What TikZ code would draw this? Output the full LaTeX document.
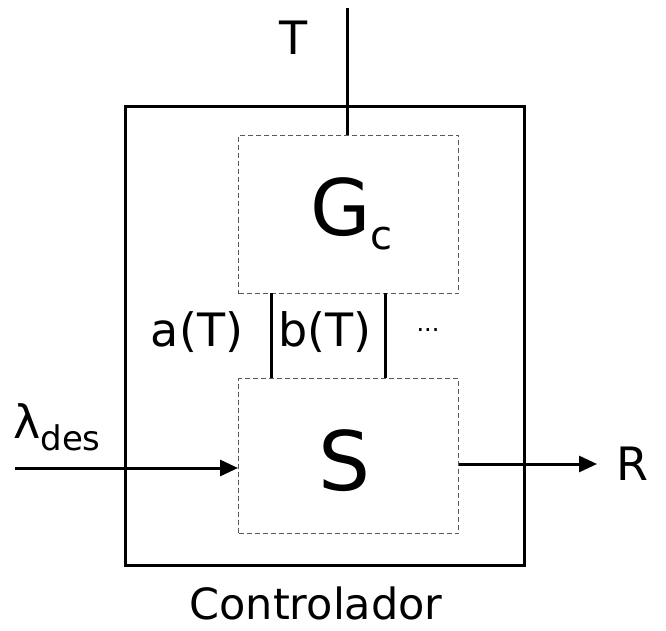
\documentclass[tikz,border=0pt]{standalone}
\usepackage{fontspec}
\setmainfont{DejaVu Sans}
\usetikzlibrary{arrows.meta}
\begin{document}
\begin{tikzpicture}[x=1pt,y=-1pt,
  thick line/.style={line width=3pt},
  dashbox/.style={draw=black!65, line width=1pt, dash pattern=on 5pt off 3pt},
  lbl/.style={font=\fontsize{46}{52}\selectfont, inner sep=0pt},
  arr/.style={line width=3pt, -{Triangle[length=18pt,width=16pt]}}]
\useasboundingbox (0,0) rectangle (666,631);
\draw[thick line] (125,107) rectangle (524,565);
\node[dashbox, minimum width=220pt, minimum height=158pt, anchor=north west, inner sep=0pt] (gc) at (238,135) {};
\node[dashbox, minimum width=220pt, minimum height=155pt, anchor=north west, inner sep=0pt] (s) at (238,378) {};
\node[inner sep=0pt, anchor=base] (gct) at (351.5,235) {\fontsize{78}{80}\selectfont G\hspace{-1pt}\raisebox{-14pt}{\fontsize{40}{44}\selectfont c}};
\node[inner sep=0pt, anchor=base] (st) at (345,490) {\fontsize{82}{84}\selectfont S};
\coordinate (ttop) at (347,8);
\draw[thick line] (ttop) -- (gc.north -| ttop);
\node[lbl, anchor=base] (tl) at (294,55) {T};
\coordinate (a1) at (271,293);
\coordinate (a2) at (385,293);
\draw[thick line] (a1) -- (a1 |- s.north);
\draw[thick line] (a2) -- (a2 |- s.north);
\node[lbl, anchor=base] (al) at (197,346) {a(T)};
\node[lbl, anchor=base] (bl) at (325,346) {b(T)};
\node[font=\fontsize{24}{28}\selectfont, inner sep=0pt] (dots) at (428,330) {...};
\coordinate (in) at (15,468);
\draw[arr] (in) -- (s.west |- in);
\node[inner sep=0pt, anchor=base west] (lam) at (13,438) {\fontsize{46}{52}\selectfont λ\raisebox{-12pt}{\fontsize{34}{38}\selectfont des}};
\coordinate (out) at (597,464);
\draw[arr] (s.east |- out) -- (out);
\node[lbl, anchor=base] (rl) at (632,480) {R};
\node[font=\fontsize{43}{48}\selectfont, inner sep=0pt, anchor=base] (ctl) at (316,619) {Controlador};
\end{tikzpicture}
\end{document}
